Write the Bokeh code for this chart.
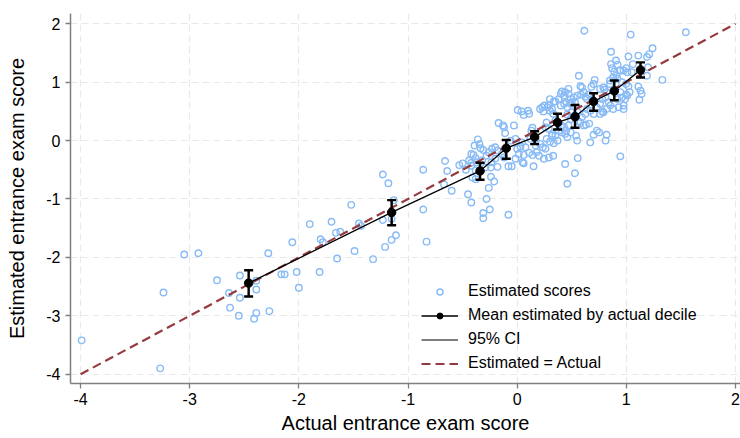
from bokeh.plotting import figure
from bokeh.models import ColumnDataSource, FixedTicker, Legend, LegendItem, Range1d
from bokeh.embed import file_html
from bokeh.resources import INLINE

# ---------------- data ----------------
# Individual estimated vs actual scores
actual = [
    -3.99, -3.27, -3.24, -3.05, -2.92, -2.75, -2.64, -2.63, -2.55, -2.54, -2.54, -2.41, -2.39, -2.39, -2.39,
    -2.28, -2.27, -2.16, -2.13, -2.06, -2.02, -2.00, -1.90, -1.81, -1.80, -1.78, -1.70, -1.66, -1.62, -1.65,
    -1.49, -1.52, -1.45, -1.43, -1.32,
    -1.23, -1.18, -1.13, -1.23, -1.15, -1.11, -1.15, -1.21, -0.86, -0.86, -0.83, -0.66, -0.64, -0.67, -0.60,
    -0.53, -0.50, -0.47, -0.45,
    -0.40, -0.38, -0.42, -0.41, -0.42, -0.36, -0.345, -0.335, -0.31, -0.39, -0.42, -0.44, -0.37, -0.32, -0.28,
    -0.26, -0.23, -0.20, -0.18, -0.20, -0.235, -0.29, -0.42, -0.38, -0.38, -0.24, -0.21, -0.26, -0.28, -0.25,
    -0.31, -0.31, -0.08, -0.24, -0.18, -0.14, -0.12, -0.17, -0.13, -0.11, -0.03, -0.12, -0.06,
    -0.08, -0.05, -0.015, 0.015, 0.06, 0.11, 0.14, 0.18, 0.20, 0.15, 0.05, 0.26, 0.27, 0.32, 0.29, 0.245,
    0.0, 0.076, 0.17, 0.21, 0.235, 0.17, 0.12, 0.046, -0.015, 0.03, 0.06, 0.33, 0.335, 0.30,
    0.005, 0.04, 0.06, 0.10, 0.11, 0.14, 0.13, 0.21, 0.23, 0.24, 0.28, 0.30, 0.29, 0.33, 0.32, 0.335, 0.30,
    0.25, 0.27, 0.35, 0.26, 0.29, 0.32,
    0.35, 0.37, 0.38, 0.41, 0.44, 0.43, 0.40, 0.46, 0.47, 0.45, 0.49, 0.54, 0.55, 0.555, 0.53, 0.44, 0.46,
    0.35, 0.38, 0.40, 0.40, 0.41, 0.43, 0.43, 0.44, 0.45, 0.47, 0.47, 0.49, 0.46, 0.49, 0.52, 0.53, 0.50,
    0.55, 0.50, 0.53, 0.55, 0.46, 0.49, 0.56,
    0.565, 0.58, 0.595, 0.61, 0.655, 0.64, 0.585, 0.625, 0.686, 0.63, 0.66, 0.61, 0.70, 0.73, 0.67, 0.75,
    0.82, 0.81, 0.945, 0.58, 0.595, 0.625, 0.64, 0.67, 0.70, 0.76, 0.79, 0.616,
    0.71, 0.70, 0.68, 0.76, 0.79, 0.82, 0.81, 0.78, 0.84, 0.855, 0.92, 0.945, 0.96, 0.99, 1.01, 0.975, 0.93,
    0.88, 0.82, 0.78, 0.76, 0.73, 0.80, 0.85,
    0.86, 0.905, 0.92, 0.87, 0.89, 0.945, 0.975, 1.00, 1.01, 0.88, 0.92, 0.96, 1.00, 1.02, 0.86, 1.02, 1.04,
    1.11, 1.19, 1.21, 1.24, 1.06, 1.20, 1.19, 1.33, 1.11, 1.13, 1.14, 1.12, 1.03, 1.00, 0.975, 1.546, 0.85,
    1.05, 0.94, 0.91,
]
estimated = [
    -3.42, -3.90, -2.60, -1.95, -1.93, -2.39, -2.61, -2.86, -3.00, -2.31, -2.69, -3.05, -2.95, -2.40, -2.55,
    -1.93, -2.92, -2.29, -2.29, -1.74, -2.25, -2.52, -1.43, -2.25, -1.69, -1.74, -1.39, -1.58, -1.56, -2.02,
    -1.89, -1.10, -1.42, -1.46, -2.03,
    -0.58, -0.73, -1.02, -1.36, -1.34, -1.62, -1.70, -1.82, -0.50, -1.18, -1.73, -0.35, -0.52, -0.75, -0.86,
    -0.42, -0.39, -0.50, -0.92,
    -0.245, -0.30, -0.38, -0.63, -1.06, 0.02, -0.06, -0.13, -0.16, -0.085, -0.23, -0.34, -0.37, -0.34, -0.26,
    -0.20, -0.14, -0.115, -0.17, -0.31, -0.37, -0.46, -0.43, -0.51, -0.66, -0.62, -0.70, -0.81, -1.00, -1.18,
    -1.24, -1.33, -1.27, -0.46, -0.45, -0.23, -0.29, 0.30, 0.26, 0.125, 0.26, 0.23, 0.00,
    -0.44, -0.44, -0.31, -0.23, -0.245, -0.21, -0.245, -0.20, -0.26, -0.44, -0.37, -0.14, 0.03, 0.085, -0.29, -0.31,
    -0.14, -0.115, -0.086, -0.057, -0.115, 0.00, 0.03, -0.03, 0.03, -0.10, -0.39, -0.26, -0.045, -0.02,
    0.525, 0.50, 0.44, 0.51, 0.46, 0.22, 0.17, 0.54, 0.57, 0.50, 0.57, 0.51, 0.61, 0.46, 0.54, 0.67, 0.71,
    0.60, 0.31, 0.34, 0.23, 0.20, 0.115,
    0.085, 0.00, 0.17, 0.14, 0.115, 0.23, 0.26, 0.057, 0.26, 0.17, 0.14, 0.085, 0.00, -0.30, -0.56, -0.40, -0.74,
    0.67, 0.71, 0.60, 0.80, 0.84, 0.63, 0.77, 0.83, 0.656, 0.80, 0.885, 0.714, 0.57, 0.63, 0.74, 0.656, 0.656,
    0.77, 0.485, 0.43, 0.50, 0.445, 0.37, 0.33,
    1.11, 0.93, 0.91, 0.83, 0.79, 0.714, 0.79, 0.75, 0.71, 0.27, 0.29, 0.26, 0.10, 0.17, -0.03, 0.14,
    0.10, 0.00, -0.27, 0.31, 0.40, 0.457, 0.54, 0.51, 0.457, 0.457, 0.485, 1.88,
    1.04, 0.97, 0.92, 0.885, 0.91, 0.83, 0.74, 0.71, 0.656, 0.60, 0.71, 0.83, 0.74, 0.71, 0.77, 0.60, 0.57,
    0.54, 0.54, 0.50, 0.63, 0.57, 0.87, 0.97,
    1.52, 1.37, 1.30, 1.24, 1.18, 1.20, 1.20, 1.24, 1.17, 1.08, 1.06, 1.00, 0.97, 0.93, 1.31, 1.44, 1.815,
    1.455, 1.43, 1.48, 1.58, 1.31, 1.255, 1.11, 1.04, 0.925, 0.856, 0.80, 0.70, 0.83, 0.79, 0.54, 1.855, 1.03,
    1.17, 1.20, 1.12,
]

# Decile means of the estimated score by decile of the actual score, with 95% CI
decile_actual = [-2.46, -1.15, -0.34, -0.10, 0.16, 0.37, 0.53, 0.70, 0.89, 1.13]
decile_mean = [-2.44, -1.23, -0.52, -0.13, 0.06, 0.31, 0.41, 0.67, 0.85, 1.21]
ci_low = [-2.67, -1.45, -0.67, -0.31, -0.06, 0.19, 0.22, 0.51, 0.69, 1.08]
ci_high = [-2.22, -1.02, -0.38, 0.01, 0.16, 0.46, 0.61, 0.81, 1.03, 1.34]

# 45-degree reference line
ref_x = [-4, 2]
ref_y = [-4, 2]

ticks = [-4, -3, -2, -1, 0, 1, 2]
tick_labels = {t: str(t) for t in ticks}

# ---------------- figure ----------------
FONT = "Liberation Sans"
p = figure(width=740, height=438, output_backend="svg", toolbar_location=None,
           x_range=Range1d(-4.092, 2.046), y_range=Range1d(-4.159, 2.176),
           min_border_left=70, min_border_right=0, min_border_top=13, min_border_bottom=55)
p.outline_line_color = None
p.background_fill_color = "white"

for ax in (p.xaxis, p.yaxis):
    ax.ticker = FixedTicker(ticks=ticks)
    ax.major_label_overrides = tick_labels
    ax.axis_line_color = "#7f7f7f"
    ax.axis_line_width = 1.5
    ax.major_tick_line_color = "#7f7f7f"
    ax.major_tick_line_width = 1.3
    ax.major_tick_out = 5
    ax.major_tick_in = 0
    ax.minor_tick_out = 0
    ax.minor_tick_in = 0
    ax.major_label_text_font = FONT
    ax.major_label_text_font_size = "16px"
    ax.major_label_text_color = "black"
    ax.major_label_standoff = 5
    ax.axis_label_text_font = FONT
    ax.axis_label_text_font_size = "20px"
    ax.axis_label_text_font_style = "normal"
    ax.axis_label_text_color = "black"

p.xaxis.axis_label = "Actual entrance exam score"
p.yaxis.axis_label = "Estimated entrance exam score"
p.xaxis.major_label_standoff = 4
p.xaxis.axis_label_standoff = 4
p.yaxis.axis_label_standoff = 15
p.yaxis.major_label_orientation = "horizontal"

for g in (p.xgrid, p.ygrid):
    g.ticker = FixedTicker(ticks=ticks)
    g.grid_line_color = "#e9e9e9"
    g.grid_line_width = 1.2
    g.grid_line_dash = "7 4"

scatter_src = ColumnDataSource(dict(x=actual, y=estimated))
r_sc = p.scatter("x", "y", source=scatter_src, marker="circle", size=6.5,
                 fill_color=None, line_color="#88bbf6", line_width=1.4)

r_ref = p.line(ref_x, ref_y, line_color="#953b3f", line_width=2.2, line_dash="9 5")

dec_src = ColumnDataSource(dict(x=decile_actual, y=decile_mean, lo=ci_low, hi=ci_high))
r_mline = p.line("x", "y", source=dec_src, line_color="black", line_width=1.3)
# thin CI segment (legend key), covered by the thick CI bars drawn on top
ci_key = p.segment(x0="x", y0="lo", x1="x", y1="hi", source=dec_src, line_color="black", line_width=1.2)
r_ci = p.segment(x0="x", y0="lo", x1="x", y1="hi", source=dec_src, line_color="black", line_width=2.4)
p.scatter("x", "lo", source=dec_src, marker="dash", size=9, line_color="black", line_width=2.4)
p.scatter("x", "hi", source=dec_src, marker="dash", size=9, line_color="black", line_width=2.4)
r_dot = p.scatter("x", "y", source=dec_src, marker="circle", size=8.5,
                  fill_color="black", line_color="black")

legend = Legend(items=[
    LegendItem(label="Estimated scores", renderers=[r_sc]),
    LegendItem(label="Mean estimated by actual decile", renderers=[r_mline, r_dot]),
    LegendItem(label="95% CI", renderers=[ci_key]),
    LegendItem(label="Estimated = Actual", renderers=[r_ref]),
], location=(351, 10))
legend.border_line_color = None
legend.background_fill_alpha = 0
legend.padding = 0
legend.margin = 0
legend.spacing = 4
legend.glyph_width = 37
legend.glyph_height = 15
legend.label_height = 20
legend.label_standoff = 10
legend.label_text_font = FONT
legend.label_text_font_size = "16px"
legend.label_text_color = "black"
p.add_layout(legend, "center")

open("out.html", "w").write(file_html(p, INLINE))
